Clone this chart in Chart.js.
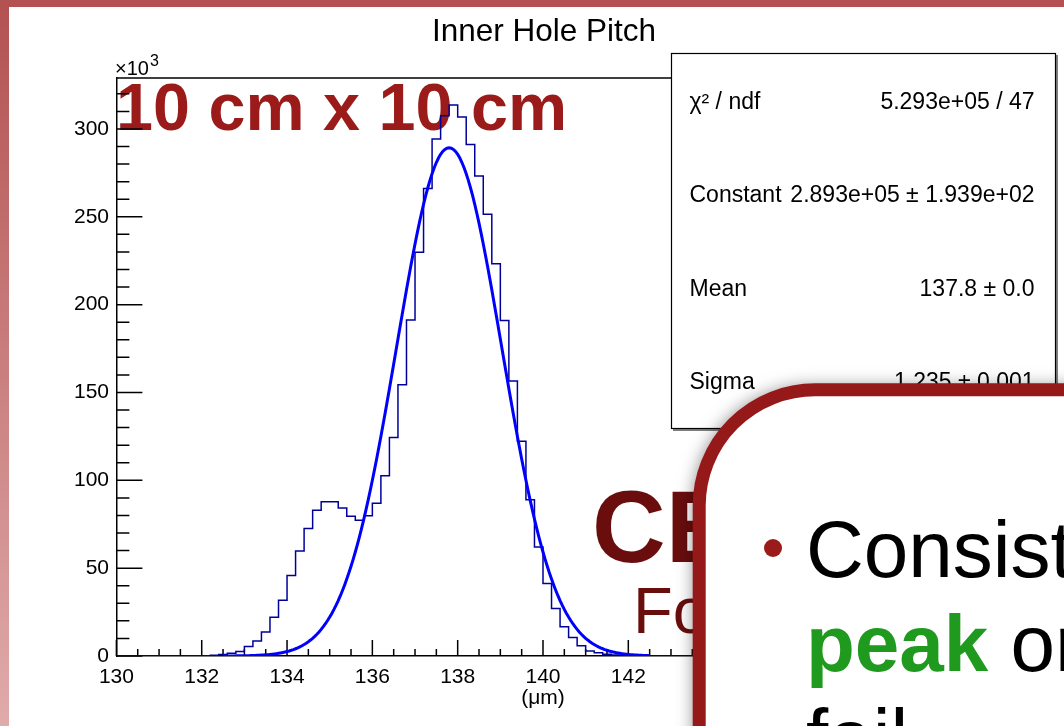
<!DOCTYPE html>
<html>
<head>
<meta charset="utf-8">
<title>Inner Hole Pitch</title>
<script src="https://cdn.jsdelivr.net/npm/chart.js@4.4.1/dist/chart.umd.min.js"></script>
<style>
html, body { margin: 0; padding: 0; background: #fff; overflow: hidden; }
#plot { position: absolute; left: 0; top: 0; }
</style>
</head>
<body>
<canvas id="plot" width="1064" height="726"></canvas>
<script>
// hole pitch histogram: 100 bins of 0.2 um from 130 to 150
var binLow = 130;
var binWidth = 0.2;
var counts = [
  0, 0, 0, 0, 0, 0, 0, 0, 100, 150,
  200, 400, 800, 1600, 2600, 5400, 8600, 13700, 22100, 31800,
  45800, 59700, 72600, 83000, 87800, 87800, 84200, 79500, 77200, 79900,
  87000, 102600, 124400, 154400, 191200, 229800, 266100, 294300, 307500, 313600,
  306800, 291200, 273200, 251500, 223300, 191000, 156500, 122300, 88900, 62100,
  41300, 27000, 16600, 10500, 5800, 2900, 1800, 1000, 600, 300,
  200, 100, 0, 0, 0, 0, 0, 0, 0, 0,
  0, 0, 0, 0, 0, 0, 0, 0, 0, 0,
  0, 0, 0, 0, 0, 0, 0, 0, 0, 0,
  0, 0, 0, 0, 0, 0, 0, 0, 0, 0
];

// gaus fit parameters and range
var fitConstant = 2.893e5;
var fitMean = 137.8;
var fitSigma = 1.235;
var fitLow = 132.5;
var fitHigh = 142.5;

var xTickLabels = [130, 132, 134, 136, 138, 140, 142, 144, 146, 148, 150];
var yTickLabels = [0, 50, 100, 150, 200, 250, 300]; // x10^3

var statsRows = [
  ['χ² / ndf', '5.293e+05 / 47'],
  ['Constant', '2.893e+05 ± 1.939e+02'],
  ['Mean', '137.8 ± 0.0'],
  ['Sigma', '1.235 ± 0.001']
];

var FONT = '"Liberation Sans", Arial, Helvetica, sans-serif';
Chart.defaults.font.family = FONT;

var histPoints = counts.map(function (c, i) {
  return { x: binLow + i * binWidth, y: c };
});
histPoints.push({ x: binLow + counts.length * binWidth, y: counts[counts.length - 1] });

var fitPoints = [];
for (var k = 0; k <= 200; k++) {
  var fx = fitLow + (fitHigh - fitLow) * k / 200;
  var z = (fx - fitMean) / fitSigma;
  fitPoints.push({ x: fx, y: fitConstant * Math.exp(-0.5 * z * z) });
}

function roundedBox(c, x, y, w, h, r) {
  c.beginPath();
  c.moveTo(x + r, y);
  c.lineTo(x + w - r, y);
  c.arcTo(x + w, y, x + w, y + r, r);
  c.lineTo(x + w, y + h - r);
  c.arcTo(x + w, y + h, x + w - r, y + h, r);
  c.lineTo(x + r, y + h);
  c.arcTo(x, y + h, x, y + h - r, r);
  c.lineTo(x, y + r);
  c.arcTo(x, y, x + r, y, r);
  c.closePath();
}

// regular tick grid: every `step` from the scale minimum up to its maximum
function fixedTicks(step) {
  return function (s) {
    var out = [];
    var n = Math.floor((s.max - s.min) / step + 1e-9);
    for (var i = 0; i <= n; i++) {
      out.push({ value: Math.round((s.min + i * step) * 1000) / 1000 });
    }
    s.ticks = out;
  };
}

var rootFrame = {
  id: 'rootFrame',
  beforeDraw: function (chart) {
    var c = chart.ctx;
    c.save();
    var g = c.createLinearGradient(0, 0, 0, chart.height);
    g.addColorStop(0, '#b35151');
    g.addColorStop(1, '#e0abab');
    c.fillStyle = g;
    c.fillRect(0, 0, chart.width, chart.height);
    c.fillStyle = '#fff';
    c.fillRect(9, 7, chart.width - 9, chart.height - 7);

    c.fillStyle = '#000';
    c.textBaseline = 'alphabetic';
    c.textAlign = 'center';
    c.font = '31.5px ' + FONT;
    c.fillText('Inner Hole Pitch', 544, 41);

    c.textAlign = 'left';
    c.fillStyle = '#9b1a1a';
    c.font = 'bold 66.5px ' + FONT;
    c.fillText('10 cm x 10 cm', 116, 130);
    c.restore();
  },
  beforeDatasetsDraw: function (chart) {
    var c = chart.ctx, a = chart.chartArea;
    var xs = chart.scales.x, ys = chart.scales.y;
    c.save();
    c.strokeStyle = '#000';
    c.lineWidth = 1.5;
    c.beginPath();
    ys.ticks.forEach(function (t) {
      var py = ys.getPixelForValue(t.value);
      var len = t.value % 50000 === 0 ? 26 : 13;
      c.moveTo(a.left, py);
      c.lineTo(a.left + len, py);
    });
    xs.ticks.forEach(function (t) {
      var px = xs.getPixelForValue(t.value);
      var len = Math.abs(t.value / 2 - Math.round(t.value / 2)) < 1e-6 ? 16 : 7;
      c.moveTo(px, a.bottom);
      c.lineTo(px, a.bottom - len);
    });
    // top and right frame edges
    c.moveTo(a.left, a.top);
    c.lineTo(a.right, a.top);
    c.lineTo(a.right, a.bottom);
    c.stroke();

    // exponent of the y axis
    c.fillStyle = '#000';
    c.textAlign = 'left';
    c.textBaseline = 'alphabetic';
    c.font = '20px ' + FONT;
    c.fillText('×10', 115, 75);
    var w = c.measureText('×10').width;
    c.font = '16px ' + FONT;
    c.fillText('3', 115 + w + 1, 66);
    c.restore();
  },
  afterDraw: function (chart) {
    var c = chart.ctx;
    c.save();

    // fit statistics box
    c.fillStyle = '#fff';
    c.fillRect(671, 53, 385, 376);
    c.strokeStyle = '#000';
    c.lineWidth = 1.2;
    c.strokeRect(671.5, 53.5, 384, 375);
    c.lineWidth = 1;
    c.beginPath();
    c.moveTo(1057, 55);
    c.lineTo(1057, 430);
    c.lineTo(673, 430);
    c.stroke();

    c.fillStyle = '#000';
    c.font = '23px ' + FONT;
    c.textBaseline = 'alphabetic';
    var rowBase = [109, 202, 296, 389];
    statsRows.forEach(function (row, i) {
      c.textAlign = 'left';
      c.fillText(row[0], 689.5, rowBase[i]);
      c.textAlign = 'right';
      c.fillText(row[1], 1034.5, rowBase[i]);
    });

    // slide title fragments behind the callout
    c.textAlign = 'left';
    c.fillStyle = '#6a0d0d';
    c.font = 'bold 102px ' + FONT;
    c.fillText('CE', 592, 562);
    c.font = '65px ' + FONT;
    c.fillText('Fo', 633, 633);

    // callout box
    c.save();
    c.shadowColor = 'rgba(0,0,0,0.55)';
    c.shadowBlur = 18;
    c.shadowOffsetX = -4;
    c.shadowOffsetY = -2;
    roundedBox(c, 699.2, 389.8, 600, 500, 116);
    c.fillStyle = '#fff';
    c.fill();
    c.restore();
    roundedBox(c, 699.2, 389.8, 600, 500, 116);
    c.lineWidth = 13;
    c.strokeStyle = '#961919';
    c.stroke();

    c.fillStyle = '#9b1b1b';
    c.beginPath();
    c.arc(773, 548, 9, 0, Math.PI * 2);
    c.fill();

    c.fillStyle = '#000';
    c.font = '80px ' + FONT;
    c.fillText('Consist', 806, 577);
    c.fillStyle = '#1f9a1f';
    c.font = 'bold 80px ' + FONT;
    c.fillText('peak', 806, 671);
    var pw = c.measureText('peak').width;
    c.fillStyle = '#000';
    c.font = '80px ' + FONT;
    c.fillText(' or', 806 + pw, 671);
    c.fillText('fail', 806, 765);
    c.restore();
  }
};

new Chart(document.getElementById('plot').getContext('2d'), {
  type: 'line',
  data: {
    datasets: [
      {
        data: histPoints,
        borderColor: '#000099',
        borderWidth: 1.5,
        stepped: true,
        pointRadius: 0,
        fill: false,
        order: 2
      },
      {
        data: fitPoints,
        borderColor: '#0000ff',
        borderWidth: 3,
        tension: 0,
        pointRadius: 0,
        fill: false,
        order: 1
      }
    ]
  },
  options: {
    responsive: false,
    animation: false,
    devicePixelRatio: 1,
    layout: { padding: { left: 0, top: 78, right: 94.4, bottom: 0 } },
    plugins: {
      legend: { display: false },
      tooltip: { enabled: false },
      title: { display: false }
    },
    scales: {
      x: {
        type: 'linear',
        min: 130,
        max: 150,
        bounds: 'data',
        afterFit: function (s) { s.height = 70; },
        afterBuildTicks: fixedTicks(0.5),
        grid: { display: false, drawTicks: false },
        border: { display: true, color: '#000', width: 1.5 },
        ticks: {
          autoSkip: false,
          maxRotation: 0,
          minRotation: 0,
          padding: 9,
          color: '#000',
          font: { size: 21 },
          callback: function (v) {
            var r = Math.round(v);
            return (Math.abs(v - r) < 1e-6 && xTickLabels.indexOf(r) >= 0) ? String(r) : '';
          }
        },
        title: {
          display: true,
          text: '(μm)',
          color: '#000',
          font: { size: 21 },
          padding: { top: 0, bottom: 15 }
        }
      },
      y: {
        type: 'linear',
        min: 0,
        max: 329000,
        bounds: 'data',
        afterFit: function (s) { s.width = 116.4; },
        afterBuildTicks: fixedTicks(10000),
        grid: { display: false, drawTicks: false },
        border: { display: true, color: '#000', width: 1.5 },
        ticks: {
          autoSkip: false,
          padding: 7.4,
          color: '#000',
          font: { size: 21 },
          callback: function (v) {
            var t = Math.round(v / 1000);
            return (v % 10000 === 0 && yTickLabels.indexOf(t) >= 0) ? String(t) : '';
          }
        }
      }
    }
  },
  plugins: [rootFrame]
});
</script>
</body>
</html>
